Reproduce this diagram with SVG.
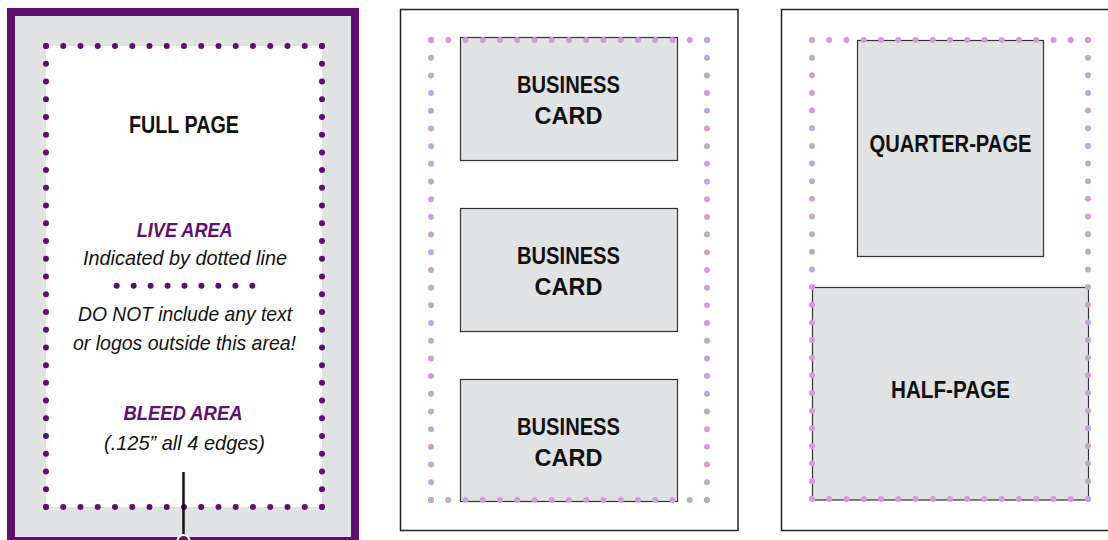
<svg xmlns="http://www.w3.org/2000/svg" width="1108" height="540" viewBox="0 0 1108 540">
<style>
.lbl{font-family:"Liberation Sans",Arial,sans-serif;font-weight:bold;font-size:23.5px;fill:#111;text-anchor:middle}
.it{font-family:"Liberation Sans",Arial,sans-serif;font-style:italic;font-size:21px;fill:#111;text-anchor:middle}
.pit{font-family:"Liberation Sans",Arial,sans-serif;font-style:italic;font-weight:bold;font-size:19.5px;fill:#5f0f70;text-anchor:middle}
.box{fill:#e1e2e4;stroke:#333;stroke-width:1.2}
.frame{fill:#fff;stroke:#222;stroke-width:1.5}
.pd{fill:none;stroke:#5f0f70;stroke-width:6;stroke-linecap:round}
.ld{fill:none;stroke:#c9a4d2;stroke-width:6;stroke-linecap:round}
.h{stroke-dasharray:0 17.249}
.v{stroke-dasharray:0 17.73}
.v2{stroke-dasharray:0 17.69}
.v3{stroke-dasharray:0 17.65}
</style>
<rect width="1108" height="540" fill="#fff"/>
<g id="full-page">
<rect x="11" y="12" width="344" height="529" fill="#e1e2e4" stroke="#5f0f70" stroke-width="8"/>
<rect x="46" y="46" width="276" height="461" fill="#fff"/>
<path class="pd h" d="M46 46H322.1"/>
<path class="pd v" d="M322 46V507.1"/>
<path class="pd h" d="M46 507H322.1"/>
<path class="pd v" d="M46 46V507.1"/>
<path class="pd" style="stroke-dasharray:0 16.95" d="M116.7 285.7H252.4"/>
<text class="lbl" x="184" y="133.3" textLength="110" lengthAdjust="spacingAndGlyphs">FULL PAGE</text>
<text class="pit" x="184.7" y="236.7" textLength="96" lengthAdjust="spacingAndGlyphs">LIVE AREA</text>
<text class="it" x="185" y="265" textLength="204" lengthAdjust="spacingAndGlyphs">Indicated by dotted line</text>
<text class="it" x="185" y="321" textLength="214" lengthAdjust="spacingAndGlyphs">DO NOT include any text</text>
<text class="it" x="184.5" y="350" textLength="223" lengthAdjust="spacingAndGlyphs">or logos outside this area!</text>
<text class="pit" x="183" y="420" textLength="119" lengthAdjust="spacingAndGlyphs">BLEED AREA</text>
<text class="it" x="184.5" y="450" textLength="161" lengthAdjust="spacingAndGlyphs">(.125” all 4 edges)</text>
</g>
<g id="connectors">
<line x1="183.5" y1="472" x2="183.5" y2="537" stroke="#111" stroke-width="2.5"/>
<circle cx="183.5" cy="541" r="6" fill="#5f0f70" stroke="#fff" stroke-width="2"/>
</g>
<g id="page-2">
<rect class="frame" x="400.5" y="9.5" width="337.5" height="521"/>
<g id="card-1">
<rect class="box" x="460.5" y="37.5" width="217" height="123"/>
<text class="lbl" x="568.5" y="93.3" textLength="103" lengthAdjust="spacingAndGlyphs">BUSINESS</text>
<text class="lbl" x="568.5" y="124.3">CARD</text>
</g>
<g id="card-2">
<rect class="box" x="460.5" y="208.5" width="217" height="123"/>
<text class="lbl" x="568.5" y="264.3" textLength="103" lengthAdjust="spacingAndGlyphs">BUSINESS</text>
<text class="lbl" x="568.5" y="295.3">CARD</text>
</g>
<g id="card-3">
<rect class="box" x="460.5" y="379.5" width="217" height="122"/>
<text class="lbl" x="568.5" y="435.3" textLength="103" lengthAdjust="spacingAndGlyphs">BUSINESS</text>
<text class="lbl" x="568.5" y="466.3">CARD</text>
</g>
<path class="ld h" d="M431 40H707.1"/>
<path class="ld v2" d="M707 40V500.1"/>
<path class="ld h" d="M431 500H707.1"/>
<path class="ld v2" d="M431 40V500.1"/>
</g>
<g id="page-3">
<rect class="frame" x="781.5" y="9.5" width="340" height="521"/>
<g id="quarter-page">
<rect class="box" x="857.5" y="40.5" width="186" height="216"/>
<text class="lbl" x="950.5" y="152.3" textLength="162" lengthAdjust="spacingAndGlyphs">QUARTER-PAGE</text>
</g>
<g id="half-page">
<rect class="box" x="812.5" y="287.5" width="276" height="212.5"/>
<text class="lbl" x="950.5" y="398" textLength="119" lengthAdjust="spacingAndGlyphs">HALF-PAGE</text>
</g>
<path class="ld h" d="M812 40H1088.1"/>
<path class="ld v3" d="M1088 40V499.1"/>
<path class="ld h" d="M812 499H1088.1"/>
<path class="ld v3" d="M812 40V499.1"/>
</g>
</svg>
